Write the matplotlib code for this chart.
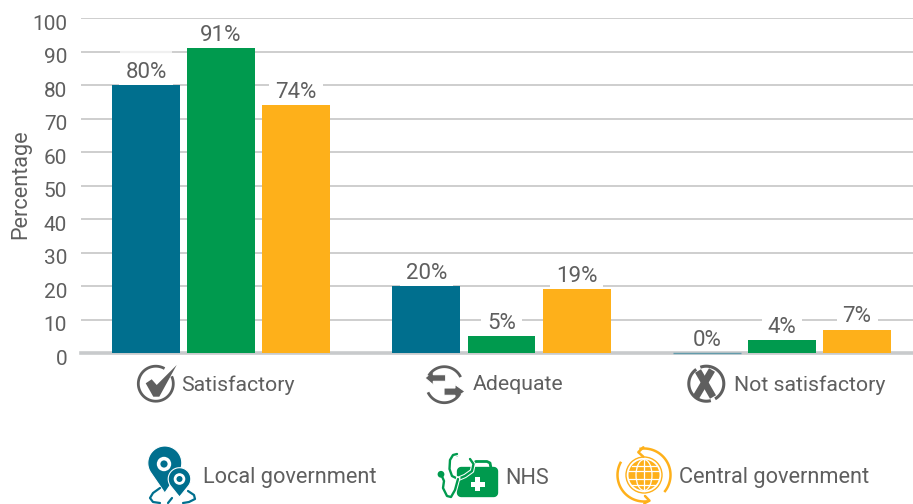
# Gráfico de barras agrupadas: avaliação por setor, com ícones desenhados à mão
import numpy as np
import matplotlib
matplotlib.use("Agg")
import matplotlib.pyplot as plt
from matplotlib.patches import Circle, Polygon, FancyBboxPatch, Rectangle, Ellipse
from matplotlib.transforms import ScaledTranslation

plt.rcParams['font.family'] = ['Roboto', 'DejaVu Sans']

# Dados
categorias = ["Satisfactory", "Adequate", "Not satisfactory"]
series = ["Local government", "NHS", "Central government"]
local_gov = [80, 20, 0]
nhs = [91, 5, 4]
central_gov = [74, 19, 7]
yticks = list(range(0, 101, 10))

AZUL = "#006F8E"
VERDE = "#009A4E"
AMARELO = "#FEB01A"
CINZA = "#5F5F5F"
GRADE = "#C6C6C6"

W, H = 913, 504
fig = plt.figure(figsize=(W / 100, H / 100), dpi=100)
ax = fig.add_axes([81 / W, 1 - 353 / H, 832 / W, 335 / H])

# --- Barras ---
largura = 0.2424
passo = 0.2674
x = np.arange(len(categorias))
for j, (valores, cor) in enumerate(zip([local_gov, nhs, central_gov], [AZUL, VERDE, AMARELO])):
    barras = ax.bar(x + (j - 1) * passo, valores, largura, color=cor, linewidth=0, zorder=4)
    for b, v in zip(barras, valores):
        if v == 0:
            # barra de valor zero aparece só como um fio claro
            b.set_edgecolor(cor)
            b.set_linewidth(1.0)
            b.set_alpha(0.5)
            b.set_clip_on(False)
        ax.annotate(f"{v}%", (b.get_x() + b.get_width() / 2, v), xytext=(0, 1.5),
                    textcoords="offset points", ha="center", va="bottom",
                    fontsize=16, color=CINZA, zorder=3,
                    bbox=dict(boxstyle="square,pad=0.27", fc="white", ec="none"))

# trecho quase apagado da linha 90 acima do rótulo de 80%
ax.hlines(90, x[0] - passo - 0.093, x[0] - passo + 0.093, color="#F0F0F0", lw=1.6, zorder=3.5)

# --- Eixos ---
ax.set_xlim((81 - 221) / 280.5, (913 - 221) / 280.5)
ax.set_ylim(0, 100)
ax.set_yticks(yticks)
ax.set_xticks([])
ax.grid(axis="y", color=GRADE, linewidth=1.2, zorder=1)
ax.set_axisbelow(True)
for s in ax.spines.values():
    s.set_visible(False)
ax.axhline(0, color="#C8CACC", linewidth=2.6, zorder=3.5, clip_on=False)
ax.tick_params(axis="y", length=0, pad=10, labelsize=15, labelcolor=CINZA)
# os números ficam um pouco abaixo das linhas de grade
desloca = ScaledTranslation(0, -3 / 72, fig.dpi_scale_trans)
for lab in ax.get_yticklabels():
    lab.set_transform(lab.get_transform() + desloca)
fig.text(21 / W, 1 - 184 / H, "Percentage", rotation=90, ha="center", va="center",
         fontsize=15.6, color=CINZA)

# --- Camada em pixels para ícones e textos soltos ---
ov = fig.add_axes([0, 0, 1, 1], zorder=5)
ov.set_xlim(0, W)
ov.set_ylim(H, 0)
ov.axis("off")


def arco(cx, cy, r, a0, a1, cor, lw):
    t = np.radians(np.linspace(a0, a1, 60))
    ov.plot(cx + r * np.cos(t), cy - r * np.sin(t), color=cor, lw=lw, solid_capstyle="butt")


def linha(pts, cor, lw):
    p = np.array(pts)
    ov.plot(p[:, 0], p[:, 1], color=cor, lw=lw, solid_joinstyle="round", solid_capstyle="round")


def pino(cx, cy, r, tipy, cor):
    d = tipy - cy
    beta = np.degrees(np.arccos(r / d))
    t = np.radians(np.linspace(-90 + beta, 270 - beta, 60))
    pts = np.column_stack([cx + r * np.cos(t), cy - r * np.sin(t)])
    pts = np.vstack([pts, [cx, tipy]])
    ov.add_patch(Polygon(pts, closed=True, fc=cor, ec="white", lw=0.8))


# Ícone "Satisfactory"
arco(155.8, 383.7, 17.5, 60, 385, CINZA, 2.0)
ov.add_patch(Polygon([(145.7, 383.3), (151.7, 379.3), (156.7, 385), (176.7, 365),
                      (159.3, 396.7), (153.3, 396.7)], closed=True, fc=CINZA, ec="none"))

# Ícone "Adequate"
arco(444.3, 384.7, 18, 25, 150, CINZA, 2.0)
arco(444.3, 384.7, 18, 205, 330, CINZA, 2.0)
ov.add_patch(Polygon([(425, 378), (433.3, 371), (433.3, 374.7), (445.7, 374.7),
                      (445.7, 381.3), (433.3, 381.3), (433.3, 385)], closed=True, fc=CINZA, ec="white", lw=0.8))
ov.add_patch(Polygon([(465, 391.5), (455, 384.5), (455, 388), (444, 388),
                      (444, 395.3), (455, 395.3), (455, 398.5)], closed=True, fc=CINZA, ec="white", lw=0.8))

# Ícone "Not satisfactory"
arco(706.3, 383.7, 17.5, -60, 110, CINZA, 2.2)
arco(706.3, 383.7, 17.5, 125, 285, CINZA, 2.2)
ov.plot([698, 713], [371, 397], color=CINZA, lw=5, solid_capstyle="butt")
ov.plot([712, 696], [370, 397], color=CINZA, lw=5, solid_capstyle="butt")

# Ícone "Local government"
linha([(160, 488), (153, 493), (150, 498), (153, 502), (160, 503)], AZUL, 1.6)
linha([(188, 491), (194, 495), (195, 499), (189, 502), (183, 503)], AZUL, 1.6)
linha([(168, 503), (172, 498)], AZUL, 1.6)
pino(164.8, 463, 17, 493, AZUL)
ov.add_patch(Circle((164, 464), 7.2, fc="white", ec="none"))
ov.add_patch(Circle((164, 464), 3.6, fc=AZUL, ec="none"))
pino(179.5, 479, 11.3, 497, AZUL)
ov.add_patch(Circle((179.5, 479), 5.8, fc="white", ec="none"))
ov.add_patch(Circle((179.5, 479), 3, fc=AZUL, ec="none"))

# Ícone "NHS"
linha([(473, 468), (473.5, 463), (476, 461.5), (487, 461.5), (490, 463), (491, 468)], VERDE, 2.0)
ov.add_patch(FancyBboxPatch((461, 471), 33, 22, boxstyle="round,pad=0,rounding_size=0.1",
                            fc=VERDE, ec=VERDE, lw=6, joinstyle="round"))
ov.add_patch(Rectangle((470.7, 482), 14, 4.6, fc="white", ec="none"))
ov.add_patch(Rectangle((475.4, 477.3), 4.6, 14, fc="white", ec="none"))
tubo = [(457, 454), (453, 455), (450, 460), (449.5, 469), (452, 476), (458, 479),
        (465, 476), (472, 471), (473.5, 464), (470, 459)]
ov.plot(*np.array(tubo).T, color="white", lw=3.2)
linha(tubo, VERDE, 1.7)
tubo2 = [(441, 474), (444, 481), (443, 488), (447, 496), (451, 497), (455, 490), (458, 479)]
ov.plot(*np.array(tubo2[-3:]).T, color="white", lw=3.2)
linha(tubo2, VERDE, 1.7)
ov.add_patch(Circle((441, 474.3), 3.4, fc=VERDE, ec="none"))
ov.add_patch(Circle((457, 454.5), 1.9, fc=VERDE, ec="none"))

# Ícone "Central government"
gx, gy = 644, 475
ov.add_patch(Circle((gx, gy), 18, fc="none", ec=AMARELO, lw=1.0))
ov.add_patch(Circle((gx, gy), 15.5, fc=AMARELO, ec="none"))
ov.add_patch(Ellipse((gx, gy), 16, 31, fc="none", ec="white", lw=0.9))
ov.plot([gx, gx], [gy - 15.5, gy + 15.5], color="white", lw=0.9)
for dy, meia in [(-9.5, 12.2), (-4, 15), (4, 15), (9.5, 12.2)]:
    ov.plot([gx - meia, gx + meia], [gy + dy, gy + dy], color="white", lw=0.9)
arco(gx, gy, 26.5, 100, -40, AMARELO, 1.8)
arco(gx, gy, 26.5, 150, 278, AMARELO, 1.8)
linha([(643.3, 447.3), (638.3, 452.2), (643.3, 456.7)], AMARELO, 1.8)
linha([(645, 496), (649.5, 500.7), (644.3, 503.3)], AMARELO, 1.8)

# --- Textos das categorias e da legenda ---
for nome, xt in zip(categorias, [181, 472.5, 734]):
    ov.text(xt, 385, nome, ha="left", va="center", fontsize=15.3, color=CINZA)
for nome, xt in zip(series, [203, 505, 679]):
    ov.text(xt, 478, nome, ha="left", va="center", fontsize=15.7, color=CINZA)

fig.savefig("out.png", dpi=100)
